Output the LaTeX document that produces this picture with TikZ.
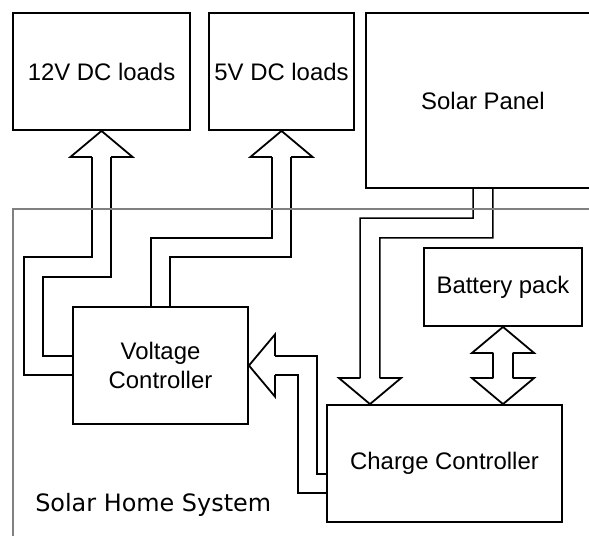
\documentclass[tikz,border=0pt]{standalone}
\usepackage{fontspec}
\setmainfont{Liberation Sans}
\newfontfamily\sysfont{DejaVu Sans}
\usepackage{tikz}
\usetikzlibrary{backgrounds,calc}
\newcommand\boxfont{\fontsize{17pt}{20.6pt}\selectfont}
\tikzset{
  unit/.style={draw, line width=0.045cm, inner sep=0pt, align=center, font=\boxfont, minimum height=2.925cm},
  pipe/.style={double, double distance=0.44cm, line width=0.045cm},
  frame/.style={draw=black!50, line width=0.03cm},
  pics/hollowhead/.style={code={
    \fill[white] (-31,26) -- (0,0) -- (31,26) -- cycle;
    \draw[line width=0.045cm, line join=miter] (-9.7,26) -- (-31,26) -- (0,0) -- (31,26) -- (9.7,26);
  }},
}

\begin{document}
\begin{tikzpicture}[x=0.025cm, y=-0.025cm]
  \useasboundingbox (0,0) rectangle (589,535);
  \clip (0,0) rectangle (589,535);
  \draw[frame] (13,209) rectangle (620,560);
  \node[font=\sysfont\boxfont, inner sep=0pt, anchor=base west] (syslabel) at (35,511) {Solar Home System};
  \node[unit, minimum width=4.425cm] (load12) at (101.5,71.5) {12V DC loads};
  \node[unit, minimum width=3.625cm] (load5) at (281.5,71.5) {5V DC loads};
  \node[unit, minimum width=5.85cm, minimum height=4.375cm] (panel) at (483,100.5) {Solar Panel};
  \node[unit, minimum width=3.95cm, minimum height=1.95cm] (battery) at (503,287) {Battery pack};
  \node[unit, minimum width=4.375cm] (volt) at (160.5,365.5) {Voltage\\Controller};
  \node[unit, minimum width=5.875cm] (charge) at (444.5,463.5) {Charge Controller};
  \coordinate (solarin) at ([xshift=-1.8625cm]charge.north);
  \coordinate (battin) at (battery.south |- charge.north);
  \begin{scope}[on background layer]
    \draw[pipe] (volt.west) -| (33.5,267) -| ([yshift=-0.625cm]load12.south);
    \draw[pipe] (volt.north) |- (281.5,247.5) -- ([yshift=-0.625cm]load5.south);
    \draw[pipe] (panel.south) |- (370,228) -- ([yshift=0.625cm]solarin);
    \draw[pipe] ([yshift=-0.5cm]charge.west) -| (307.5,365.5) -- ([xshift=0.625cm]volt.east);
    \draw[pipe] ([yshift=-0.625cm]battery.south) -- ([yshift=0.625cm]battin);
  \end{scope}
  \pic at (load12.south) {hollowhead};
  \pic at (load5.south) {hollowhead};
  \pic[rotate=180] at (solarin) {hollowhead};
  \pic[rotate=90] at (volt.east) {hollowhead};
  \pic at (battery.south) {hollowhead};
  \pic[rotate=180] at (battin) {hollowhead};
\end{tikzpicture}
\end{document}
